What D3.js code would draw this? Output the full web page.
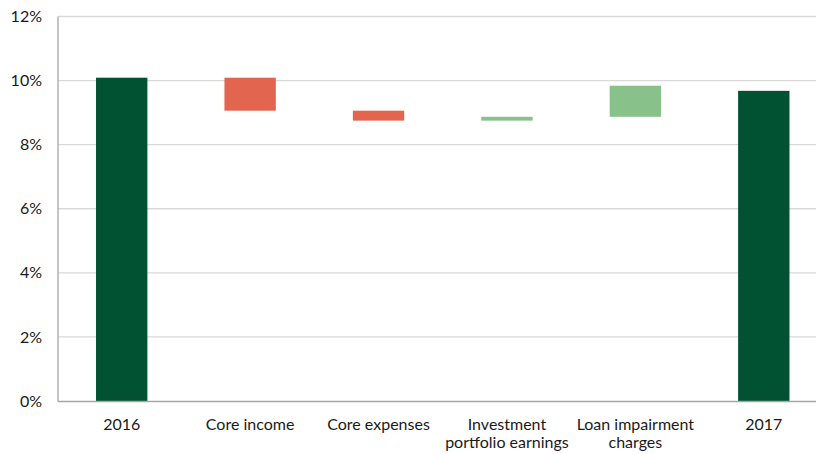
<!DOCTYPE html>
<html><head><meta charset="utf-8">
<script src="https://cdn.jsdelivr.net/npm/d3@7"></script>
<style>body{margin:0;background:#fff}svg{display:block}</style>
</head><body>
<svg id="c" width="816" height="454"></svg>
<script>
const categories = [["2016"],["Core income"],["Core expenses"],["Investment","portfolio earnings"],["Loan impairment","charges"],["2017"]];
const barStart = [0, 10.09, 9.06, 8.75, 8.87, 0];
const barEnd   = [10.09, 9.06, 8.75, 8.87, 9.84, 9.68];
const barType  = ["total","decrease","decrease","increase","increase","total"];
const yTicks = [0,2,4,6,8,10,12];

const colors = {total:"#005232", decrease:"#E2654F", increase:"#88C18A"};
const font = "Lato, 'Open Sans', sans-serif";
const svg = d3.select("#c");
const x = d3.scaleBand().domain(d3.range(categories.length)).range([57.5, 828]).paddingInner(0.6).paddingOuter(0.3);
const y = d3.scaleLinear().domain([0,12]).range([401, 16.5]);

// gridlines
svg.append("g").selectAll("line").data(yTicks.filter(d=>d>0)).join("line")
  .attr("x1",58).attr("x2",816).attr("y1",d=>y(d)).attr("y2",d=>y(d))
  .attr("stroke","#d9d9d9").attr("stroke-width",1.3);

// y axis labels
const yAxis = svg.append("g").attr("transform","translate(58,0)")
  .call(d3.axisLeft(y).tickValues(yTicks).tickFormat(d=>d+"%").tickSize(0).tickPadding(16));
yAxis.select(".domain").remove();
yAxis.selectAll("text").attr("font-family",font).attr("font-size",16).attr("fill","#1a1a1a");

// bars
svg.append("g").selectAll("rect").data(d3.range(categories.length)).join("rect")
  .attr("x",i=>x(i)).attr("width",x.bandwidth())
  .attr("y",i=>y(Math.max(barStart[i],barEnd[i])))
  .attr("height",i=>Math.abs(y(barStart[i])-y(barEnd[i])))
  .attr("fill",i=>colors[barType[i]]);

// axes lines
svg.append("line").attr("x1",58).attr("x2",58).attr("y1",16.5).attr("y2",401.5).attr("stroke","#a6a6a6").attr("stroke-width",1.3);
svg.append("line").attr("x1",58).attr("x2",816).attr("y1",401.5).attr("y2",401.5).attr("stroke","#a6a6a6").attr("stroke-width",1.3);

// x labels
const xl = svg.append("g").selectAll("text").data(d3.range(categories.length)).join("text")
  .attr("x",i=>x(i)+x.bandwidth()/2).attr("y",430)
  .attr("text-anchor","middle").attr("font-family",font).attr("font-size",16).attr("fill","#1a1a1a");
xl.selectAll("tspan").data(i=>categories[i].map(t=>({t,i}))).join("tspan")
  .attr("x",d=>x(d.i)+x.bandwidth()/2).attr("dy",(d,j)=>j?18:0).text(d=>d.t);
</script>
</body></html>
